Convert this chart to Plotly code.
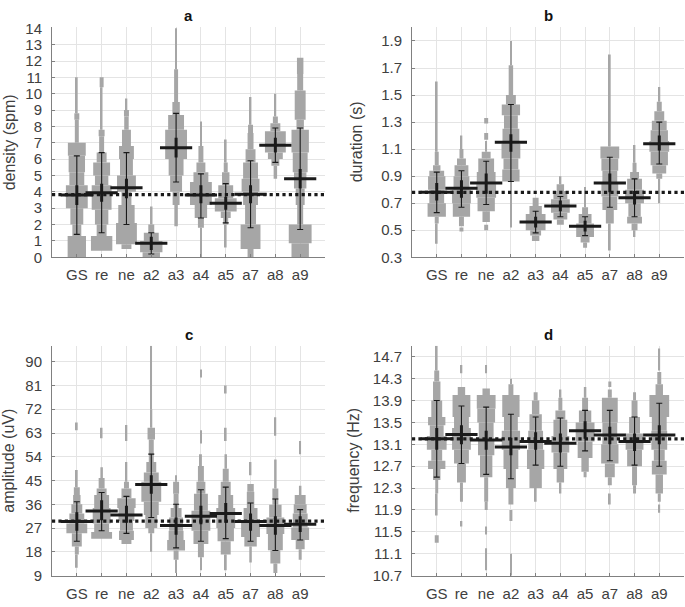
import plotly.graph_objects as go

categories = ["GS", "re", "ne", "a2", "a3", "a4", "a5", "a7", "a8", "a9"]
positions = list(range(1, 11))

# ---------------- panel a : density (spm) ----------------
dens_mean = [3.8, 3.95, 4.25, 0.85, 6.7, 3.8, 3.3, 3.85, 6.85, 4.8]
dens_sem_lo = [3.2, 3.4, 3.6, 0.45, 6.1, 3.3, 2.9, 3.3, 6.4, 4.2]
dens_sem_hi = [4.4, 4.5, 4.8, 1.25, 7.3, 4.4, 3.7, 4.4, 7.3, 5.4]
dens_sd_lo = [1.4, 1.5, 2.0, 0.2, 4.6, 2.4, 2.1, 1.8, 5.8, 1.7]
dens_sd_hi = [6.2, 6.4, 6.4, 1.5, 8.8, 5.1, 4.5, 5.9, 7.9, 7.9]
dens_ref = 3.83
dens_ticks = list(range(0, 15))
dens_bins = [
    [(0, 1.3, 0.37), (1.3, 2.0, 0.18), (2.0, 3.0, 0.26), (3.0, 4.4, 0.44), (4.4, 5.2, 0.3), (5.2, 6.2, 0.33),
     (6.2, 7.0, 0.36), (7.0, 8.4, 0.08), (8.4, 8.8, 0.1), (8.8, 11.0, 0.035)],
    [(0.4, 1.3, 0.43), (1.3, 2.0, 0.2), (2.0, 2.9, 0.27), (2.9, 4.4, 0.4), (4.4, 5.0, 0.27), (5.0, 5.8, 0.34),
     (5.8, 6.4, 0.2), (6.4, 7.4, 0.1), (7.4, 7.8, 0.12), (7.8, 10.4, 0.035), (10.4, 11.0, 0.08)],
    [(0.5, 0.8, 0.2), (0.8, 2.1, 0.42), (2.1, 3.2, 0.33), (3.2, 4.0, 0.2), (4.0, 5.0, 0.38), (5.0, 6.0, 0.26),
     (6.0, 6.8, 0.3), (6.8, 7.8, 0.18), (7.8, 8.6, 0.09), (8.6, 9.0, 0.1), (9.0, 9.7, 0.035)],
    [(0, 0.3, 0.35), (0.3, 1.0, 0.45), (1.0, 1.5, 0.3), (1.5, 2.0, 0.12), (2.0, 3.1, 0.05)],
    [(1.9, 3.2, 0.07), (3.2, 4.0, 0.14), (4.0, 5.0, 0.24), (5.0, 6.0, 0.3), (6.0, 7.8, 0.44), (7.8, 8.7, 0.32),
     (8.7, 9.5, 0.15), (9.5, 11.5, 0.08), (11.5, 14.0, 0.035)],
    [(0.0, 1.8, 0.035), (1.8, 2.4, 0.12), (2.4, 3.2, 0.25), (3.2, 4.6, 0.44), (4.6, 5.2, 0.3), (5.2, 5.8, 0.18),
     (5.8, 6.8, 0.1), (6.8, 8.3, 0.035)],
    [(0.6, 2.0, 0.035), (2.0, 2.4, 0.1), (2.4, 2.8, 0.2), (2.8, 3.6, 0.44), (3.6, 4.4, 0.3), (4.4, 5.2, 0.15),
     (5.2, 5.8, 0.08), (5.8, 7.2, 0.035)],
    [(0, 0.5, 0.12), (0.5, 2.0, 0.4), (2.0, 3.2, 0.22), (3.2, 4.0, 0.3), (4.0, 4.8, 0.36), (4.8, 5.8, 0.3),
     (5.8, 6.6, 0.2), (6.6, 7.6, 0.12), (7.6, 8.1, 0.1), (8.1, 9.8, 0.035)],
    [(4.8, 5.6, 0.07), (5.6, 6.0, 0.16), (6.0, 6.4, 0.3), (6.4, 7.7, 0.42), (7.7, 8.2, 0.2), (8.2, 8.6, 0.1),
     (8.6, 10.0, 0.035)],
    [(0, 0.85, 0.35), (0.85, 2.0, 0.46), (2.0, 3.2, 0.12), (3.2, 4.2, 0.18), (4.2, 5.2, 0.25), (5.2, 6.4, 0.3),
     (6.4, 7.8, 0.35), (7.8, 8.4, 0.15), (8.4, 10.2, 0.22), (10.2, 11.2, 0.12), (11.2, 12.2, 0.13)],
]

# ---------------- panel b : duration (s) ----------------
dur_mean = [0.78, 0.81, 0.85, 1.15, 0.56, 0.68, 0.53, 0.85, 0.74, 1.14]
dur_sem_lo = [0.72, 0.74, 0.77, 1.08, 0.52, 0.64, 0.49, 0.78, 0.69, 1.09]
dur_sem_hi = [0.85, 0.87, 0.92, 1.21, 0.60, 0.72, 0.57, 0.92, 0.79, 1.20]
dur_sd_lo = [0.63, 0.67, 0.69, 0.86, 0.48, 0.60, 0.46, 0.67, 0.60, 0.99]
dur_sd_hi = [0.93, 0.94, 1.01, 1.43, 0.64, 0.75, 0.60, 1.04, 0.88, 1.30]
dur_ref = 0.78
dur_ticks = [0.3, 0.5, 0.7, 0.9, 1.1, 1.3, 1.5, 1.7, 1.9]
dur_bins = [
    [(0.4, 0.55, 0.035), (0.55, 0.6, 0.08), (0.6, 0.7, 0.37), (0.7, 0.8, 0.3), (0.8, 0.9, 0.35), (0.9, 0.94, 0.3),
     (0.94, 0.98, 0.15), (0.98, 1.08, 0.08), (1.08, 1.6, 0.035)],
    [(0.49, 0.52, 0.08), (0.53, 0.6, 0.1), (0.6, 0.7, 0.35), (0.7, 0.8, 0.38), (0.8, 0.9, 0.32), (0.9, 0.98, 0.28),
     (0.98, 1.03, 0.18), (1.03, 1.1, 0.08), (1.1, 1.2, 0.035)],
    [(0.5, 0.54, 0.08), (0.56, 0.64, 0.15), (0.64, 0.74, 0.35), (0.74, 0.84, 0.4), (0.84, 0.93, 0.38),
     (0.93, 1.03, 0.32), (1.03, 1.08, 0.18), (1.08, 1.16, 0.035), (1.17, 1.22, 0.08), (1.29, 1.33, 0.08)],
    [(0.52, 0.86, 0.035), (0.86, 0.95, 0.35), (0.95, 1.03, 0.3), (1.03, 1.14, 0.38), (1.14, 1.25, 0.34),
     (1.25, 1.35, 0.28), (1.35, 1.43, 0.37), (1.43, 1.5, 0.2), (1.5, 1.72, 0.09), (1.72, 1.9, 0.035)],
    [(0.42, 0.46, 0.15), (0.46, 0.5, 0.22), (0.5, 0.62, 0.4), (0.62, 0.68, 0.25), (0.68, 0.74, 0.12)],
    [(0.54, 0.58, 0.14), (0.58, 0.63, 0.28), (0.63, 0.73, 0.38), (0.73, 0.79, 0.28), (0.79, 0.84, 0.15),
     (0.84, 0.9, 0.04)],
    [(0.37, 0.41, 0.08), (0.41, 0.45, 0.18), (0.45, 0.55, 0.36), (0.55, 0.62, 0.26), (0.62, 0.67, 0.12),
     (0.67, 0.82, 0.035)],
    [(0.35, 0.55, 0.035), (0.55, 0.65, 0.16), (0.65, 0.75, 0.3), (0.75, 0.85, 0.34), (0.85, 0.94, 0.3),
     (0.94, 1.03, 0.34), (1.03, 1.12, 0.38), (1.12, 1.8, 0.035)],
    [(0.45, 0.5, 0.035), (0.5, 0.55, 0.12), (0.55, 0.6, 0.3), (0.6, 0.7, 0.25), (0.7, 0.8, 0.38), (0.8, 0.88, 0.3),
     (0.88, 0.93, 0.18), (0.93, 1.0, 0.08), (1.0, 1.13, 0.035)],
    [(0.7, 0.88, 0.035), (0.88, 0.92, 0.12), (0.92, 0.98, 0.28), (0.98, 1.08, 0.35), (1.08, 1.16, 0.4),
     (1.16, 1.24, 0.35), (1.24, 1.31, 0.3), (1.31, 1.38, 0.2), (1.38, 1.45, 0.1), (1.45, 1.56, 0.04)],
]

# ---------------- panel c : amplitude (uV) ----------------
amp_mean = [29.5, 33.5, 32.0, 43.5, 28.0, 31.5, 32.5, 29.5, 28.0, 28.5]
amp_sem_lo = [26.0, 30.0, 29.0, 40.0, 24.5, 28.5, 29.0, 26.0, 24.5, 25.5]
amp_sem_hi = [33.0, 37.5, 35.5, 47.0, 31.0, 35.5, 36.5, 32.5, 31.5, 31.5]
amp_sd_lo = [22.0, 26.0, 25.0, 31.0, 19.5, 22.0, 23.0, 22.0, 18.5, 22.5]
amp_sd_hi = [37.0, 40.5, 39.0, 55.0, 36.0, 41.5, 42.5, 36.5, 38.0, 34.0]
amp_ref = 29.6
amp_ticks = [9, 18, 27, 36, 45, 54, 63, 72, 81, 90]
amp_bins = [
    [(12, 17, 0.035), (17, 20, 0.08), (20, 25, 0.2), (25, 28.7, 0.42), (28.7, 32.5, 0.3), (32.5, 36, 0.22),
     (36, 39.5, 0.15), (39.5, 42.5, 0.12), (42.5, 49, 0.035), (64, 67, 0.035)],
    [(23, 25.5, 0.42), (25.5, 28.7, 0.3), (28.7, 34.6, 0.36), (34.6, 39.5, 0.3), (39.5, 42, 0.2), (42, 46, 0.12),
     (46, 50, 0.05), (61, 65, 0.035)],
    [(21, 22.5, 0.2), (22.5, 26, 0.3), (26, 29.7, 0.26), (29.7, 34.6, 0.32), (34.6, 38.3, 0.37), (38.3, 42, 0.2),
     (42, 44.5, 0.1), (44.5, 52, 0.035), (60, 66, 0.035)],
    [(18, 25, 0.035), (25, 27, 0.12), (27, 32, 0.24), (32, 37, 0.3), (37, 44.5, 0.4), (44.5, 48, 0.3),
     (48, 52, 0.2), (52, 60.5, 0.1), (60.5, 65, 0.15), (65, 72, 0.04), (72, 96, 0.03)],
    [(10, 15, 0.035), (15, 18.5, 0.1), (18.5, 22.5, 0.36), (22.5, 26, 0.3), (26, 31, 0.28), (31, 34.6, 0.22),
     (34.6, 40, 0.1), (40, 44.5, 0.12), (44.5, 47, 0.035)],
    [(11, 16, 0.035), (16, 21, 0.12), (21, 26, 0.3), (26, 33.6, 0.38), (33.6, 40, 0.28), (40, 44.5, 0.18),
     (44.5, 50.5, 0.12), (50.5, 55, 0.04), (59, 64, 0.035), (84, 87, 0.035)],
    [(11, 17, 0.04), (17, 22, 0.2), (22, 27, 0.33), (27, 34.6, 0.38), (34.6, 39.5, 0.3), (39.5, 44.5, 0.2),
     (44.5, 49.5, 0.12), (49.5, 55, 0.05), (60, 65, 0.035), (78, 81, 0.035)],
    [(14, 20, 0.05), (20, 23.6, 0.25), (23.6, 29.5, 0.38), (29.5, 34.6, 0.28), (34.6, 40.8, 0.15),
     (40.8, 43.7, 0.13), (47, 52, 0.035)],
    [(10, 13.6, 0.08), (13.6, 18.6, 0.2), (18.6, 24.8, 0.3), (24.8, 31, 0.36), (31, 35.8, 0.25), (35.8, 42, 0.12),
     (42, 53, 0.05), (62, 69, 0.035)],
    [(15, 19, 0.06), (19, 22.5, 0.18), (22.5, 27.2, 0.36), (27.2, 32.5, 0.3), (32.5, 36, 0.26), (36, 39.5, 0.22),
     (39.5, 43, 0.05), (55, 60, 0.035)],
]

# ---------------- panel d : frequency (Hz) ----------------
freq_mean = [13.2, 13.28, 13.18, 13.05, 13.15, 13.12, 13.35, 13.27, 13.15, 13.27]
freq_sem_lo = [13.0, 13.1, 13.0, 12.9, 13.0, 12.95, 13.2, 13.1, 12.98, 13.1]
freq_sem_hi = [13.4, 13.45, 13.35, 13.22, 13.32, 13.3, 13.52, 13.42, 13.3, 13.45]
freq_sd_lo = [12.5, 12.75, 12.55, 12.47, 12.72, 12.7, 12.98, 12.8, 12.72, 12.7]
freq_sd_hi = [13.9, 13.8, 13.78, 13.65, 13.6, 13.58, 13.72, 13.72, 13.6, 13.85]
freq_ref = 13.2
freq_ticks = [10.7, 11.1, 11.5, 11.9, 12.3, 12.7, 13.1, 13.5, 13.9, 14.3, 14.7]
freq_bins = [
    [(11.3, 11.44, 0.08), (11.8, 12.2, 0.035), (12.2, 12.45, 0.06), (12.45, 12.65, 0.15), (12.65, 12.8, 0.35),
     (12.8, 13.0, 0.22), (13.0, 13.25, 0.4), (13.25, 13.45, 0.28), (13.45, 13.6, 0.35), (13.6, 13.9, 0.22),
     (13.9, 14.25, 0.15), (14.25, 14.45, 0.1), (14.45, 14.9, 0.035)],
    [(11.6, 11.7, 0.035), (12.05, 12.4, 0.06), (12.4, 12.75, 0.18), (12.75, 13.0, 0.3), (13.0, 13.4, 0.38),
     (13.4, 13.6, 0.3), (13.6, 14.0, 0.36), (14.0, 14.15, 0.15), (14.4, 14.55, 0.035)],
    [(10.8, 11.2, 0.035), (11.45, 11.6, 0.035), (11.9, 12.05, 0.06), (12.05, 12.5, 0.08), (12.5, 12.9, 0.25),
     (12.9, 13.2, 0.33), (13.2, 13.5, 0.3), (13.5, 13.75, 0.36), (13.75, 14.0, 0.38), (14.0, 14.12, 0.15),
     (14.4, 14.55, 0.035)],
    [(10.7, 11.1, 0.035), (11.7, 11.9, 0.06), (12.0, 12.3, 0.1), (12.3, 12.65, 0.2), (12.65, 13.0, 0.3),
     (13.0, 13.35, 0.37), (13.35, 13.6, 0.28), (13.6, 14.0, 0.35), (14.0, 14.2, 0.1), (14.2, 14.3, 0.035)],
    [(12.05, 12.3, 0.04), (12.3, 12.65, 0.25), (12.65, 13.0, 0.35), (13.0, 13.35, 0.3), (13.35, 13.65, 0.25),
     (13.65, 13.9, 0.15), (13.9, 14.05, 0.08)],
    [(12.2, 12.4, 0.04), (12.4, 12.65, 0.15), (12.65, 12.95, 0.28), (12.95, 13.25, 0.36), (13.25, 13.55, 0.28),
     (13.55, 13.72, 0.2), (13.72, 13.95, 0.08), (13.95, 14.1, 0.04)],
    [(12.5, 12.6, 0.06), (12.6, 12.85, 0.15), (12.85, 13.15, 0.3), (13.15, 13.5, 0.38), (13.5, 13.72, 0.25),
     (13.72, 13.95, 0.12), (13.95, 14.15, 0.05)],
    [(12.0, 12.2, 0.035), (12.35, 12.5, 0.08), (12.5, 12.75, 0.2), (12.75, 13.1, 0.35), (13.1, 13.5, 0.3),
     (13.5, 13.95, 0.32), (13.95, 14.1, 0.08), (14.15, 14.25, 0.06)],
    [(12.2, 12.35, 0.06), (12.35, 12.7, 0.1), (12.7, 13.0, 0.3), (13.0, 13.3, 0.36), (13.3, 13.6, 0.22),
     (13.6, 13.9, 0.12), (13.9, 14.05, 0.06)],
    [(11.85, 12.0, 0.035), (12.05, 12.2, 0.06), (12.2, 12.55, 0.15), (12.55, 12.8, 0.3), (12.8, 13.0, 0.22),
     (13.0, 13.35, 0.32), (13.35, 13.6, 0.3), (13.6, 14.0, 0.4), (14.0, 14.2, 0.15), (14.2, 14.42, 0.08),
     (14.45, 14.85, 0.035)],
]

W, H = 685, 607
GREY = "#A6A6A6"
INK = "#1A1A1A"
FONT = "Liberation Sans, Arial, sans-serif"

panels = [
    dict(key="", bins=dens_bins, mean=dens_mean, sl=dens_sem_lo, sh=dens_sem_hi, dl=dens_sd_lo, dh=dens_sd_hi,
         ref=dens_ref, ticks=dens_ticks, fmt="{:d}", yr=[0, 14.05], title="a", ylabel="density (spm)",
         px=(52, 325), py=(20, 256), tpy=8, lx=9),
    dict(key="2", bins=dur_bins, mean=dur_mean, sl=dur_sem_lo, sh=dur_sem_hi, dl=dur_sd_lo, dh=dur_sd_hi,
         ref=dur_ref, ticks=dur_ticks, fmt="{:.1f}", yr=[0.3, 2.0], title="b", ylabel="duration (s)",
         px=(412, 684), py=(20, 256), tpy=8, lx=356),
    dict(key="3", bins=amp_bins, mean=amp_mean, sl=amp_sem_lo, sh=amp_sem_hi, dl=amp_sd_lo, dh=amp_sd_hi,
         ref=amp_ref, ticks=amp_ticks, fmt="{:d}", yr=[9, 96], title="c", ylabel="amplitude (uV)",
         px=(52, 325), py=(347, 583), tpy=335, lx=9),
    dict(key="4", bins=freq_bins, mean=freq_mean, sl=freq_sem_lo, sh=freq_sem_hi, dl=freq_sd_lo, dh=freq_sd_hi,
         ref=freq_ref, ticks=freq_ticks, fmt="{:.1f}", yr=[10.7, 14.9], title="d", ylabel="frequency (Hz)",
         px=(412, 684), py=(347, 583), tpy=335, lx=354),
]

fig = go.Figure()
layout = dict(
    width=W, height=H, margin=dict(l=0, r=0, t=0, b=0),
    paper_bgcolor="white", plot_bgcolor="white", showlegend=False,
    barmode="overlay", font=dict(family=FONT, color="#404040"), annotations=[],
)

for p in panels:
    xa, ya = "x" + p["key"], "y" + p["key"]
    # distribution blocks
    ys, xs, bases, widths = [], [], [], []
    for pos, grp in zip(positions, p["bins"]):
        for lo, hi, hw in grp:
            ys.append((lo + hi) / 2)
            xs.append(2 * hw)
            bases.append(pos - hw)
            widths.append(hi - lo)
    fig.add_trace(go.Bar(orientation="h", y=ys, x=xs, base=bases, width=widths,
                         marker=dict(color=GREY, line=dict(width=0)),
                         xaxis=xa, yaxis=ya, hoverinfo="skip"))
    # reference dotted line
    fig.add_trace(go.Scatter(x=[0, 11], y=[p["ref"], p["ref"]], mode="lines",
                             line=dict(color=INK, width=3.2, dash="dot"), xaxis=xa, yaxis=ya))
    # SD thin error bars
    fig.add_trace(go.Scatter(
        x=positions, y=p["mean"], mode="markers", marker=dict(size=1, color="rgba(0,0,0,0)"),
        error_y=dict(type="data", symmetric=False,
                     array=[h - m for h, m in zip(p["dh"], p["mean"])],
                     arrayminus=[m - l for l, m in zip(p["dl"], p["mean"])],
                     thickness=1.1, width=3, color=INK),
        xaxis=xa, yaxis=ya))
    # SEM thick bars + mean line
    fig.add_trace(go.Scatter(
        x=positions, y=p["mean"], mode="markers",
        marker=dict(symbol="line-ew", size=23, line=dict(width=3, color=INK), color=INK),
        error_y=dict(type="data", symmetric=False,
                     array=[h - m for h, m in zip(p["sh"], p["mean"])],
                     arrayminus=[m - l for l, m in zip(p["sl"], p["mean"])],
                     thickness=3, width=0, color=INK),
        xaxis=xa, yaxis=ya))

    xdom = [p["px"][0] / W, p["px"][1] / W]
    ydom = [1 - p["py"][1] / H, 1 - p["py"][0] / H]
    axis_common = dict(showgrid=True, gridcolor="#E4E4E4", gridwidth=1, zeroline=False,
                       showline=True, linecolor="#808080", linewidth=1,
                       ticks="inside", ticklen=3, tickcolor="#808080",
                       tickfont=dict(family=FONT, size=15, color="#404040"))
    layout["xaxis" + p["key"]] = dict(domain=xdom, anchor=ya, range=[0, 11], tickmode="array",
                                      tickvals=positions, ticktext=categories, ticklabelstandoff=4,
                                      **axis_common)
    layout["yaxis" + p["key"]] = dict(domain=ydom, anchor=xa, range=p["yr"], tickmode="array",
                                      tickvals=p["ticks"], ticktext=[p["fmt"].format(t) for t in p["ticks"]],
                                      ticklabelstandoff=6, **axis_common)
    layout["annotations"].append(dict(
        text="<b>" + p["title"] + "</b>", x=(p["px"][0] + p["px"][1]) / 2 / W, y=1 - p["tpy"] / H,
        xref="paper", yref="paper", showarrow=False, xanchor="center", yanchor="middle",
        font=dict(family=FONT, size=15, color="#111111")))
    layout["annotations"].append(dict(
        text=p["ylabel"], x=p["lx"] / W, y=1 - (p["py"][0] + p["py"][1]) / 2 / H,
        xref="paper", yref="paper", showarrow=False, xanchor="center", yanchor="middle", textangle=-90,
        font=dict(family=FONT, size=16, color="#404040")))

fig.update_layout(**layout)
fig.write_html("out.html", config={"displayModeBar": False},
               post_script="document.body.style.margin='0';document.body.style.overflow='hidden';")
